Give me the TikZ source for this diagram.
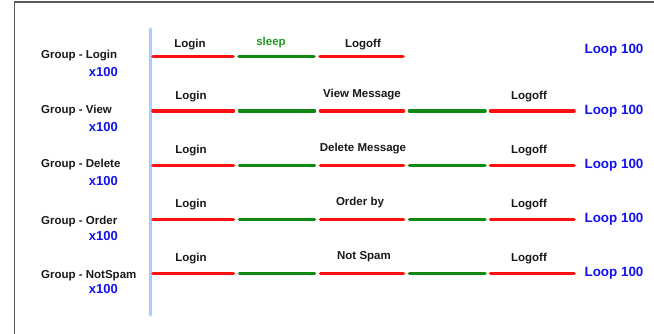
\documentclass[tikz,border=0pt]{standalone}
\usepackage{fontspec}
\setmainfont{Liberation Sans}
\definecolor{segred}{HTML}{FF1010}
\definecolor{seggreen}{HTML}{118811}
\definecolor{txtblue}{HTML}{1010F0}
\definecolor{sleepgreen}{HTML}{229922}
\definecolor{axisblue}{HTML}{A8CCFF}
\definecolor{framegray}{HTML}{5A5A5A}
\tikzset{
  redseg/.style={draw=segred, line width=3.6pt, line cap=round},
  greenseg/.style={draw=seggreen, line width=3.6pt, line cap=round},
  lbl/.style={inner sep=0pt, font=\fontsize{11.5}{13}\selectfont\bfseries, text=black!90},
  grp/.style={inner sep=0pt, anchor=west, font=\fontsize{11.5}{13}\selectfont\bfseries, text=black!90},
  cnt/.style={inner sep=0pt, anchor=east, font=\fontsize{13}{15}\selectfont\bfseries, text=txtblue},
  loop/.style={inner sep=0pt, font=\fontsize{13.4}{15}\selectfont\bfseries, text=txtblue},
}
\begin{document}
\begin{tikzpicture}[x=1pt,y=-1pt]
\useasboundingbox (0,0) rectangle (654,334);
% frame
\draw[framegray, line width=1.4pt] (14.5,334) -- (14.5,2) -- (654,2);
% vertical axis
\coordinate (axtop) at (150,29);
\coordinate (axbot) at (150,315);
\draw[axisblue, line width=3pt, line cap=round] (axtop) -- (axbot);

% Row 1
\coordinate (r1a) at (153,56.5); \coordinate (r1b) at (233,56.5);
\coordinate (r1c) at (239,56.5); \coordinate (r1d) at (314,56.5);
\coordinate (r1e) at (320,56.5); \coordinate (r1f) at (403,56.5);
\draw[redseg] (r1a) -- (r1b);
\draw[greenseg] (r1c) -- (r1d);
\draw[redseg] (r1e) -- (r1f);
\node[lbl] (l1a) at (190,45) {Login};
\node[lbl, text=sleepgreen] (l1b) at (271,43) {sleep};
\node[lbl] (l1c) at (363,45) {Logoff};
\node[grp] (g1) at (41,56) {Group - Login};
\node[cnt] (c1) at (118,72) {x100};
\node[loop] (p1) at (614,50.5) {Loop 100};

% Rows 2-5
\foreach \y/\mid/\midx/\grpname/\gy/\cy/\ly in {
  111/View Message/362/View/111/127/97,
  165.5/Delete Message/363/Delete/165/181/151,
  219.5/Order by/360/Order/222/236/205,
  273.5/Not Spam/364/NotSpam/276/289.5/259}{
  \coordinate (a) at (153,\y); \coordinate (b) at (233.5,\y);
  \coordinate (c) at (239.5,\y); \coordinate (d) at (314.5,\y);
  \coordinate (e) at (320.5,\y); \coordinate (f) at (403.5,\y);
  \coordinate (g) at (409.5,\y); \coordinate (h) at (485,\y);
  \coordinate (i) at (490.5,\y); \coordinate (j) at (574,\y);
  \draw[redseg] (a) -- (b);
  \draw[greenseg] (c) -- (d);
  \draw[redseg] (e) -- (f);
  \draw[greenseg] (g) -- (h);
  \draw[redseg] (i) -- (j);
  \node[lbl] (la) at (191,\ly) {Login};
  \node[lbl] (lm) at (\midx,\y-16.5) {\mid};
  \node[lbl] (lz) at (529,\ly) {Logoff};
  \node[grp] (g) at (41,\gy) {Group - \grpname};
  \node[cnt] (cx) at (118,\cy) {x100};
  \node[loop] (p) at (614,\y) {Loop 100};
}
\end{tikzpicture}
\end{document}
